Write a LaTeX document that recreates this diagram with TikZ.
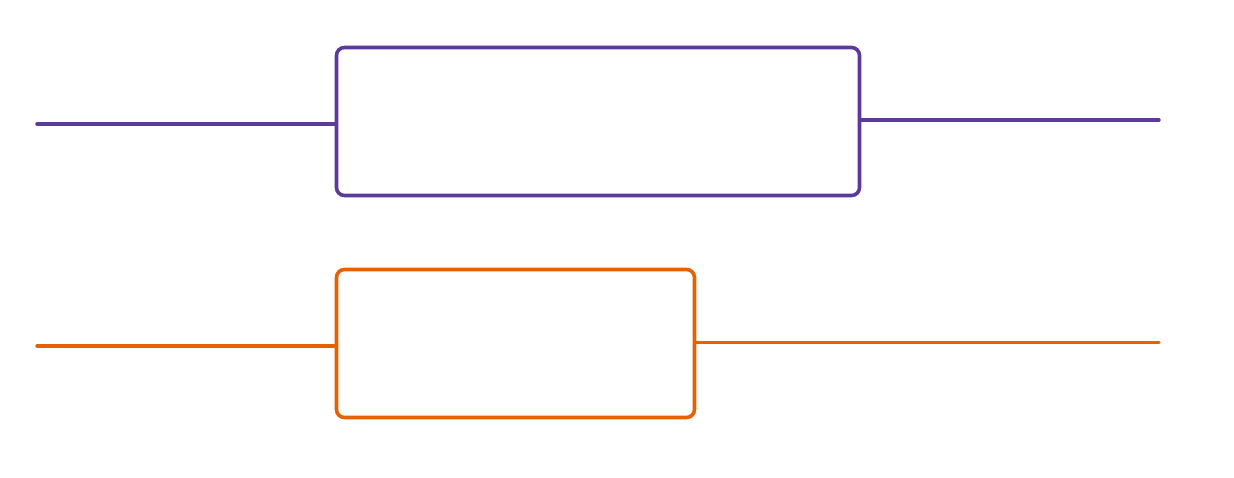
\documentclass[tikz,border=0pt]{standalone}
\definecolor{vpurple}{HTML}{5B3A9B}
\definecolor{vorange}{HTML}{E66100}
\tikzset{
  boxstyle/.style={rounded corners=8pt, line width=3.6pt, inner sep=0pt, fill=white},
  wire/.style={line width=3.4pt, line cap=round},
}
\begin{document}
\begin{tikzpicture}[x=1pt,y=-1pt]
\useasboundingbox[fill=white] (0,0) rectangle (1234,478);
\node[boxstyle, draw=vpurple, minimum width=523pt, minimum height=148pt] (pbox) at (598,121.5) {};
\node[boxstyle, draw=vorange, minimum width=358pt, minimum height=148pt] (obox) at (515.5,343.5) {};
\coordinate (pin) at (37,124);
\coordinate (pout) at (1159,120);
\coordinate (oin) at (37,346);
\coordinate (oout) at (1159,342);
\draw[wire, draw=vpurple] (pin) -- (pin -| pbox.west);
\draw[wire, draw=vpurple] (pbox.east |- pout) -- (pout);
\draw[wire, draw=vorange] (oin) -- (oin -| obox.west);
\draw[wire, draw=vorange, line width=3pt] (obox.east |- oout) -- (oout);
\end{tikzpicture}
\end{document}
